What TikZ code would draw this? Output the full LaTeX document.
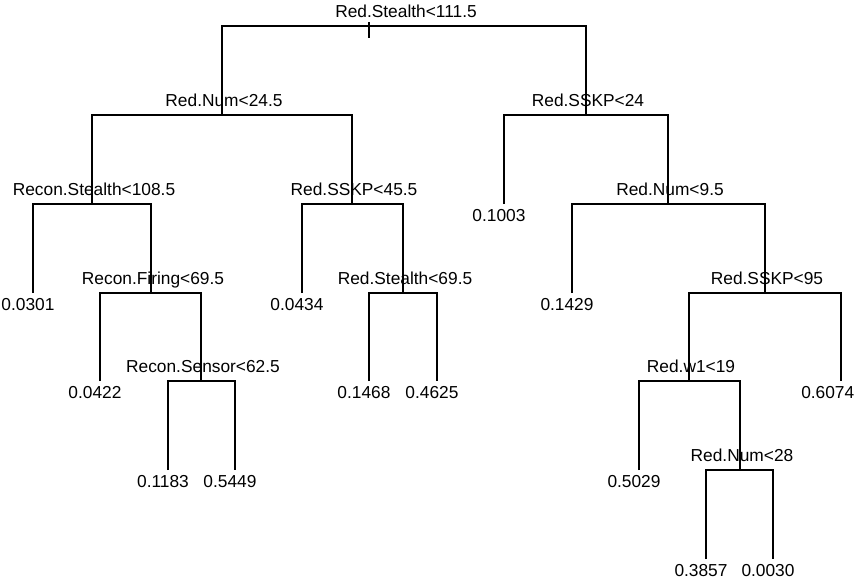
\documentclass[tikz,border=0pt]{standalone}
\usepackage{fontspec}
\setsansfont{Liberation Sans}
\usepackage{tikz}
\usetikzlibrary{calc}
\tikzset{splitlbl/.style={anchor=base,inner sep=0pt,xshift=1.5pt,yshift=6.75pt}}
\tikzset{leaflbl/.style={anchor=base,inner sep=0pt,xshift=-3.75pt,yshift=-12.75pt}}
\newcommand{\branch}[3]{\draw (#2) |- (#1) -| (#3);}

\begin{document}
\begin{tikzpicture}[x=0.75pt,y=-0.75pt,font=\sffamily\fontsize{13}{15}\selectfont,line width=1.1pt]
	\useasboundingbox (0,0) rectangle (856,582);
	% split points
	\coordinate (root) at (404,26);
	\coordinate (rnum1) at (222,115);
	\coordinate (rsskp1) at (586,115);
	\coordinate (cstl) at (92,204);
	\coordinate (rsskp2) at (352,204);
	\coordinate (rnum2) at (668,204);
	\coordinate (cfir) at (151,293);
	\coordinate (rstl) at (403,293);
	\coordinate (rsskp3) at (765,293);
	\coordinate (csen) at (201,381);
	\coordinate (rw1) at (689,381);
	\coordinate (rnum3) at (740,470);
	% leaves
	\coordinate (l1) at (33,293);
	\coordinate (l2) at (100,381);
	\coordinate (l3) at (168,470);
	\coordinate (l4) at (235,470);
	\coordinate (l5) at (302,293);
	\coordinate (l6) at (369,381);
	\coordinate (l7) at (437,381);
	\coordinate (l8) at (504,204);
	\coordinate (l9) at (572,293);
	\coordinate (l10) at (639,470);
	\coordinate (l11) at (706,559);
	\coordinate (l12) at (773,559);
	\coordinate (l13) at (841,381);
	% branches
	\branch{root}{rnum1}{rsskp1}
	\branch{rnum1}{cstl}{rsskp2}
	\branch{rsskp1}{l8}{rnum2}
	\branch{cstl}{l1}{cfir}
	\branch{cfir}{l2}{csen}
	\branch{csen}{l3}{l4}
	\branch{rsskp2}{l5}{rstl}
	\branch{rstl}{l6}{l7}
	\branch{rnum2}{l9}{rsskp3}
	\branch{rsskp3}{rw1}{l13}
	\branch{rw1}{l10}{rnum3}
	\branch{rnum3}{l11}{l12}
	\coordinate (tick) at (369,22);
	\draw[line width=0.8pt] (tick) -- ($(tick)+(0,16)$);
	% split labels
	\node[splitlbl] (root-t) at (root) {Red.Stealth<111.5};
	\node[splitlbl] (rnum1-t) at (rnum1) {Red.Num<24.5};
	\node[splitlbl] (rsskp1-t) at (rsskp1) {Red.SSKP<24};
	\node[splitlbl] (cstl-t) at (cstl) {Recon.Stealth<108.5};
	\node[splitlbl] (rsskp2-t) at (rsskp2) {Red.SSKP<45.5};
	\node[splitlbl] (rnum2-t) at (rnum2) {Red.Num<9.5};
	\node[splitlbl] (cfir-t) at (cfir) {Recon.Firing<69.5};
	\node[splitlbl] (rstl-t) at (rstl) {Red.Stealth<69.5};
	\node[splitlbl] (rsskp3-t) at (rsskp3) {Red.SSKP<95};
	\node[splitlbl] (csen-t) at (csen) {Recon.Sensor<62.5};
	\node[splitlbl] (rw1-t) at (rw1) {Red.w1<19};
	\node[splitlbl] (rnum3-t) at (rnum3) {Red.Num<28};
	% leaf labels
	\node[leaflbl] (l1-t) at (l1) {0.0301};
	\node[leaflbl] (l2-t) at (l2) {0.0422};
	\node[leaflbl] (l3-t) at (l3) {0.1183};
	\node[leaflbl] (l4-t) at (l4) {0.5449};
	\node[leaflbl] (l5-t) at (l5) {0.0434};
	\node[leaflbl] (l6-t) at (l6) {0.1468};
	\node[leaflbl] (l7-t) at (l7) {0.4625};
	\node[leaflbl] (l8-t) at (l8) {0.1003};
	\node[leaflbl] (l9-t) at (l9) {0.1429};
	\node[leaflbl] (l10-t) at (l10) {0.5029};
	\node[leaflbl] (l11-t) at (l11) {0.3857};
	\node[leaflbl] (l12-t) at (l12) {0.0030};
	\node[leaflbl,anchor=base east,xshift=3.75pt] (l13-t) at (855,381) {0.6074};
\end{tikzpicture}
\end{document}
